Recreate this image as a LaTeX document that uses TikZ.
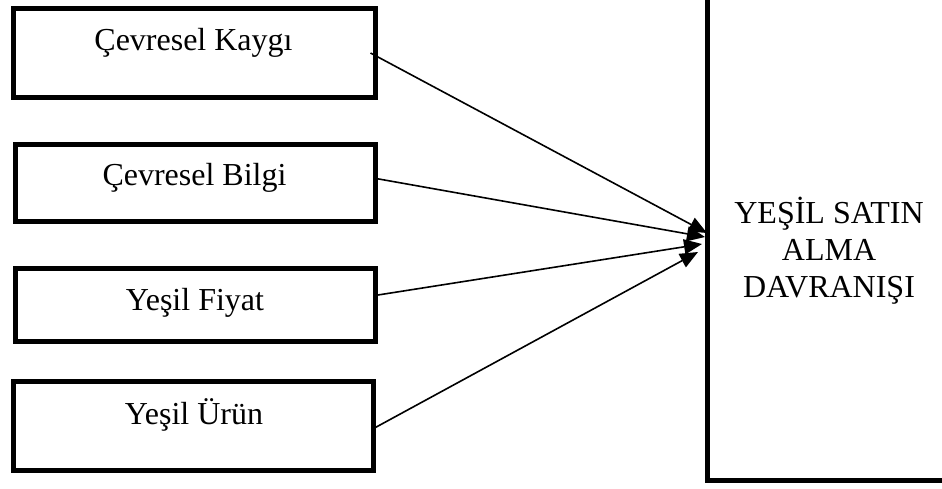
\documentclass[tikz,border=0pt]{standalone}
\usepackage{fontspec}
\setmainfont{Liberation Serif}
\usetikzlibrary{arrows.meta}
\begin{document}
\begin{tikzpicture}[x=1pt,y=-1pt,
  factor/.style={draw=black,line width=5pt,rectangle,inner sep=0pt},
  lbl/.style={font=\fontsize{32}{37}\selectfont,inner sep=0pt,anchor=base},
  link/.style={line width=1.6pt,-{Triangle[length=18pt,width=15pt]}}]
\clip (0,0) rectangle (942,488);
\fill[white] (0,0) rectangle (942,488);
% left boxes
\node[factor,minimum width=362pt,minimum height=89pt] (k1) at (194,53) {};
\node[factor,minimum width=360pt,minimum height=77.5pt] (k2) at (195.2,182.8) {};
\node[factor,minimum width=359.7pt,minimum height=73pt] (k3) at (195.6,305) {};
\node[factor,minimum width=359.7pt,minimum height=89pt] (k4) at (193.4,426.3) {};
\node[lbl] (t1) at (193.5,50) {Çevresel Kaygı};
\node[lbl] (t2) at (194.5,185) {Çevresel Bilgi};
\node[lbl] (t3) at (195,310) {Yeşil Fiyat};
\node[lbl] (t4) at (194,424) {Yeşil Ürün};
% right box
\node[factor,minimum width=243.5pt,minimum height=485.5pt] (big) at (829.25,237.75) {};
\node[font=\fontsize{32}{37}\selectfont,align=center,inner sep=0pt,anchor=base] (bt) at (829,297) {YEŞİL SATIN\\ALMA\\DAVRANIŞI};
% arrow ends
\coordinate (e1) at (707,233);
\coordinate (e2) at (705,237);
\coordinate (e3) at (702,244);
\coordinate (e4) at (698,252);
\draw[link] ([xshift=-7pt]k1.east) -- (e1);
\draw[link] ([yshift=4pt]k2.east) -- (e2);
\draw[link] ([yshift=10pt]k3.east) -- (e3);
\draw[link] ([yshift=-1pt]k4.east) -- (e4);
\end{tikzpicture}
\end{document}
